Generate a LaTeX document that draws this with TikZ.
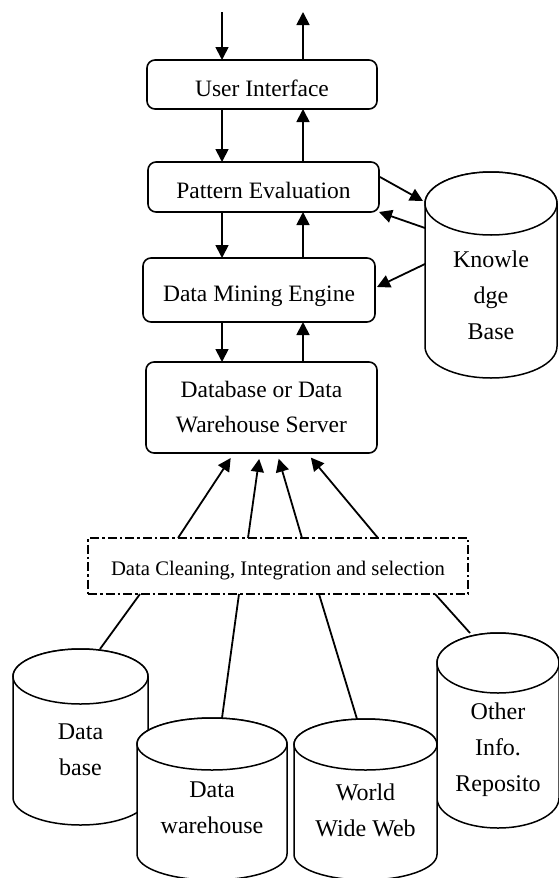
\documentclass[tikz,border=0pt]{standalone}
\usepackage{fontspec}
\setmainfont{Liberation Serif}
\usetikzlibrary{arrows.meta,calc}

\tikzset{
  box/.style={draw,line width=1.6pt,rounded corners=8pt,align=center,
    font=\fontsize{23.5}{35}\selectfont,outer sep=0pt},
  lowtext/.style={text height=28pt,text depth=5pt},
  store/.style={line width=1.5pt,fill=white},
  storetext/.style={align=center,font=\fontsize{24}{36}\selectfont},
  arr/.style={line width=1.8pt,-{Triangle[length=13pt,width=13pt]}},
  link/.style={line width=1.8pt}
}

% name, centre, width, height, rim radius, text drop, text
\newcommand{\drum}[7]{%
  \node[minimum width=#3pt,minimum height=#4pt,inner sep=0pt,outer sep=0pt] (#1) at (#2) {};
  \filldraw[store] ([yshift=-#5pt]#1.north west) -- ([yshift=#5pt]#1.south west)
    arc[start angle=180,end angle=360,x radius=#3pt/2,y radius=#5pt]
    -- ([yshift=-#5pt]#1.north east)
    arc[start angle=0,end angle=180,x radius=#3pt/2,y radius=#5pt] -- cycle;
  \draw[store] ([yshift=-#5pt]#1.north) ellipse [x radius=#3pt/2,y radius=#5pt];
  \node[storetext] (#1-text) at ([yshift=-#6pt]#1.center) {#7};
}

\begin{document}
\begin{tikzpicture}[x=1pt,y=-1pt]
  \useasboundingbox (0,0) rectangle (559,878);

  % main stack
  \node[box,lowtext,minimum width=230pt,minimum height=49pt] (ui) at (262,84.5) {User Interface};
  \node[box,lowtext,minimum width=231pt,minimum height=50pt] (pe) at (263.5,187) {Pattern Evaluation};
  \node[box,lowtext,minimum width=232pt,minimum height=64pt] (dme) at (259,290) {Data Mining Engine};
  \node[box,minimum width=231pt,minimum height=91pt] (srv) at (261.5,407.5) {Database or Data\\Warehouse Server};
  \node[box,rounded corners=0pt,line width=1.4pt,dash pattern=on 9pt off 3pt on 2.5pt off 3pt,
    minimum width=380pt,minimum height=56pt,text height=24pt,text depth=5pt,
    font=\fontsize{20.7}{30}\selectfont] (clean) at (278,566)
    {Data Cleaning, Integration and selection};

  % stores
  \drum{kb}{491,275}{132}{206}{31.5}{20}{Knowle\\dge\\Base}
  \drum{db}{80.5,737}{135}{176}{27.5}{13}{Data\\base}
  \drum{other}{498,730.5}{122}{195}{30}{19.5}{Other\\Info.\\Reposito}
  \drum{www}{365.5,799.5}{143}{161}{25.5}{10.5}{World\\Wide Web}
  \drum{dw}{212,799}{150}{162}{26}{9}{Data\\warehouse}

  % up and down between the layers
  \coordinate (dn) at (222,0);
  \coordinate (up) at (303,0);
  \coordinate (query) at (222,12);
  \coordinate (result) at (303,12);
  \draw[arr] (query) -- (ui.north -| query);
  \draw[arr] (ui.north -| result) -- (result);
  \foreach \a/\b in {ui/pe, pe/dme, dme/srv} {
    \draw[arr] (\a.south -| dn) -- (\b.north -| dn);
    \draw[arr] (\b.north -| up) -- (\a.south -| up);
  }

  % knowledge base
  \draw[arr] ($(pe.east)+(1,-10)$) -- ($(kb.north west)+(-2,29)$);
  \draw[arr] ($(kb.north west)+(0,56)$) -- (pe.south east);
  \draw[arr] ($(kb.north west)+(0,92)$) -- ($(dme.east)+(2,-3)$);

  % sources into the server
  \foreach \s/\t in {178/234, 248/260, 302/277, 378/307}
    \draw[arr,shorten >=6pt] (\s,0 |- clean.north) -- (\t,0 |- srv.south);
  \foreach \s/\t/\n in {140/100/db, 239/222/dw, 319/357/www, 435/470/other}
    \draw[link] (\s,0 |- clean.south) -- (\t,0 |- \n.north);
\end{tikzpicture}
\end{document}
